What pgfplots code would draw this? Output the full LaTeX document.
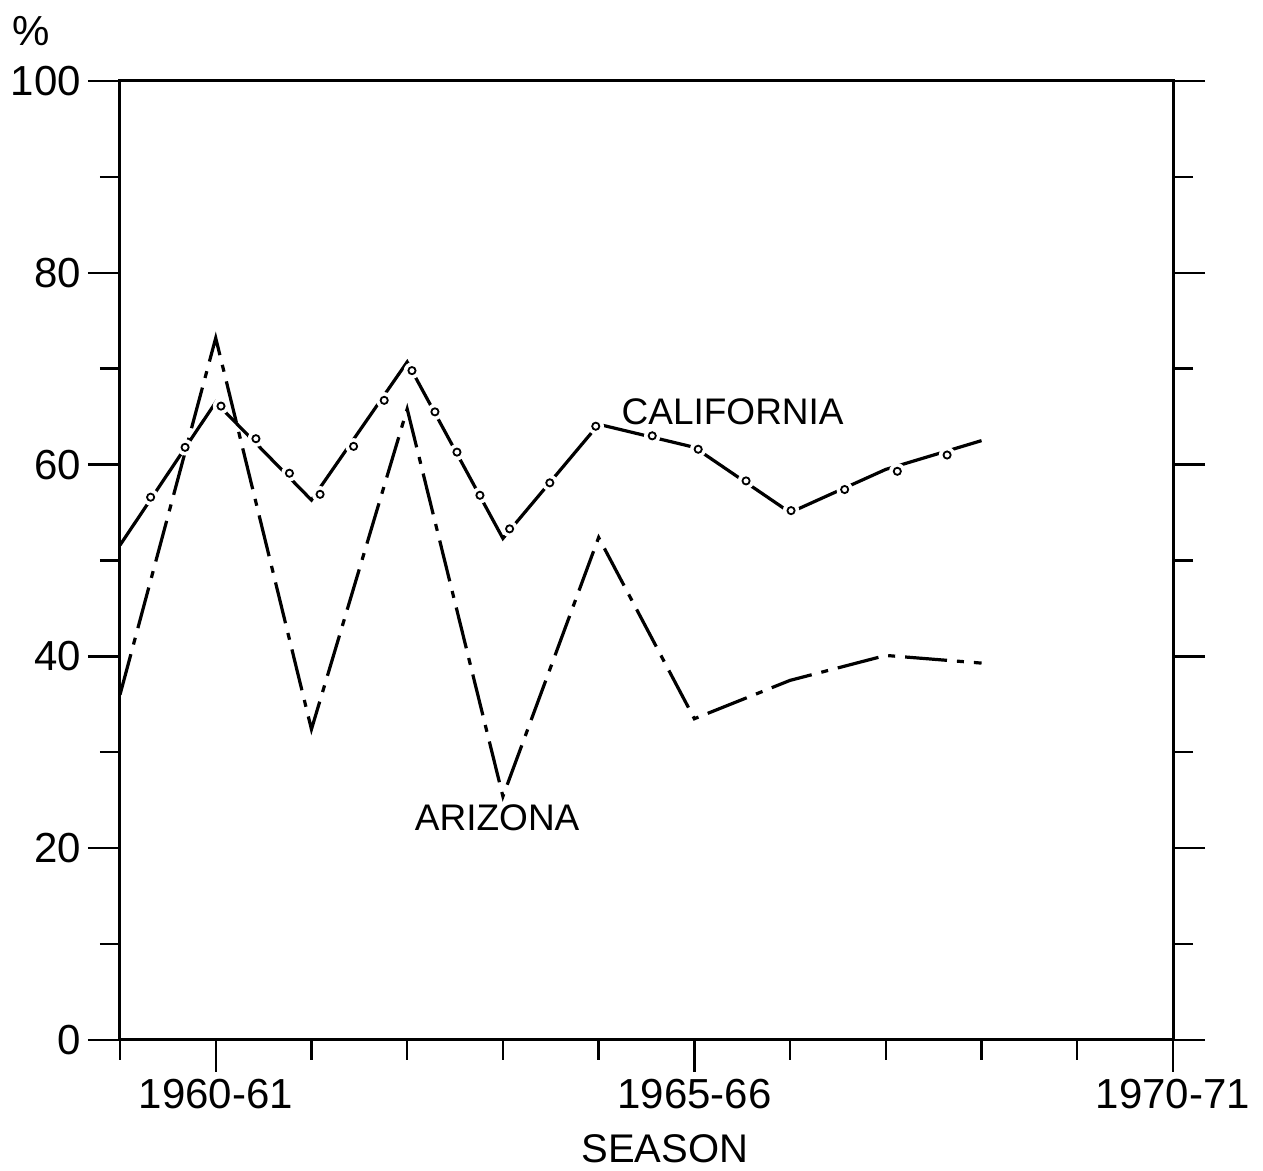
\documentclass[border=0pt]{standalone}
\usepackage{fontspec}
\setmainfont{Liberation Sans}
\usepackage{pgfplots}
\pgfplotsset{compat=1.18}
\begin{document}
\begin{tikzpicture}
\begin{axis}[
 name=ax,
 scale only axis, width=526.5pt, height=479.5pt,
 xmin=0, xmax=11, ymin=0, ymax=100,
 axis line style={line width=1.5pt},
 xtick={1,6,11}, xticklabels={1960-61,1965-66,1970-71},
 minor xtick={0,2,3,4,5,7,8,9,10},
 ytick={0,20,...,100}, minor ytick={10,30,...,90},
 xtick pos=lower, ytick pos=both, yticklabel pos=left,
 tick align=outside,
 major tick length=16pt, minor tick length=10pt,
 tick style={line width=1.2pt, black},
 /pgf/number format/assume math mode=true,
 ticklabel style={font=\fontsize{21}{25}\selectfont},
 clip=false,
]
% California line
\addplot[black, line width=1.6pt] coordinates {
(0,51.6)(1,66.5)(2,56.3)(3,70.7)(4,52.3)(5,64.2)(6,61.8)(7,55.0)(8,59.5)(9,62.5)};
% white halos for circles
\addplot[only marks, mark=*, mark size=3.9pt, mark options={draw=white, fill=white}] coordinates {
(0.32,56.6)(0.68,61.8)(1.055,66.1)(1.42,62.7)(1.77,59.1)(2.09,56.9)(2.44,61.9)(2.76,66.7)
(3.05,69.8)(3.29,65.5)(3.52,61.3)(3.76,56.8)(4.07,53.3)(4.49,58.1)(4.97,64.0)(5.56,63.0)
(6.04,61.6)(6.54,58.3)(7.01,55.2)(7.57,57.4)(8.12,59.3)(8.64,61.0)};
\addplot[only marks, mark=o, mark size=1.8pt, mark options={draw=black, line width=0.9pt, fill=white}] coordinates {
(0.32,56.6)(0.68,61.8)(1.055,66.1)(1.42,62.7)(1.77,59.1)(2.09,56.9)(2.44,61.9)(2.76,66.7)
(3.05,69.8)(3.29,65.5)(3.52,61.3)(3.76,56.8)(4.07,53.3)(4.49,58.1)(4.97,64.0)(5.56,63.0)
(6.04,61.6)(6.54,58.3)(7.01,55.2)(7.57,57.4)(8.12,59.3)(8.64,61.0)};
% Arizona
\addplot[black, line width=1.6pt, dash pattern=on 21pt off 5pt on 3.5pt off 5pt] coordinates {
(0,36.0)(1,73.2)(2,32.4)(3,65.8)(4,25.4)(5,52.4)(6,33.5)(7,37.5)(8,40.1)(9,39.3)};
\node[font=\fontsize{18.5}{22}\selectfont] at (axis cs:6.40,65.5) {CALIFORNIA};
\node[font=\fontsize{18.5}{22}\selectfont] at (axis cs:3.94,23.15) {ARIZONA};
\node[font=\fontsize{21}{25}\selectfont] at (axis cs:-0.93,105.2) {\%};
\node[font=\fontsize{20}{24}\selectfont] at (axis cs:5.69,-11.3) {SEASON};
\end{axis}
\path ([xshift=-60pt,yshift=-65.5pt]ax.south west) rectangle ([xshift=45pt,yshift=40.5pt]ax.north east);
\end{tikzpicture}
\end{document}
